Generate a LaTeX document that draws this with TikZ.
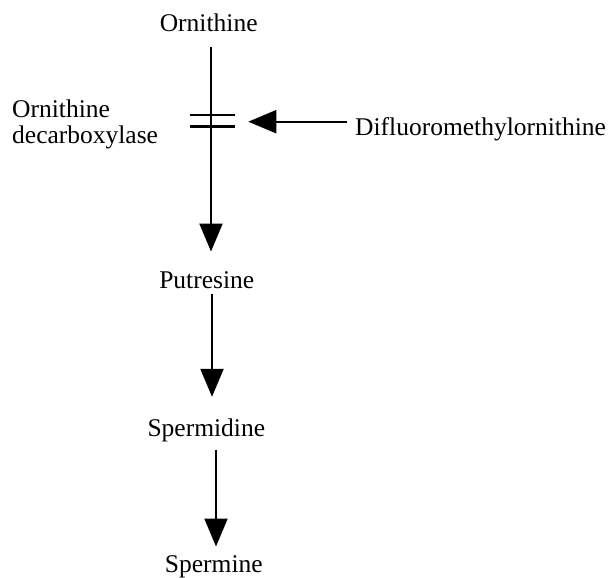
\documentclass[tikz,border=0pt]{standalone}
\usepackage{fontspec}
\setmainfont{Liberation Serif}
\usetikzlibrary{arrows.meta}
\begin{document}
\begin{tikzpicture}[x=1pt,y=-1pt,
  label/.style={inner sep=0pt, text height=17.5pt, text depth=5.5pt, anchor=base, font=\fontsize{25.5}{26.7}\selectfont},
  conn/.style={line width=2.2pt, -{Triangle[length=28pt,width=23pt]}},
  bar/.style={line width=2.5pt}]
\useasboundingbox (0,0) rectangle (613,578);
% nodes
\node[label] (orn) at (208.7,32) {Ornithine};
\node[label] (put) at (206.7,288.3) {Putresine};
\node[label] (spd) at (206.3,436.7) {Spermidine};
\node[label] (spm) at (213.8,572.7) {Spermine};
\node[label, anchor=base west] (dfmo) at (355,135) {Difluoromethylornithine};
\node[inner sep=0pt, align=left, anchor=north west, font=\fontsize{25.5}{26.6}\selectfont] (odc) at (12,99.3) {Ornithine\\decarboxylase};
% line x positions
\coordinate (l1) at (211,0);
\coordinate (l2) at (212,0);
\coordinate (l3) at (216,0);
\coordinate (blk) at (248.3,121.7);
% connectors
\draw[conn] ([yshift=-9.2pt]orn.south -| l1) -- ([yshift=19.1pt]put.north -| l1);
\draw[conn] ([yshift=0.5pt]put.south -| l2) -- ([yshift=22.2pt]spd.north -| l2);
\draw[conn] ([yshift=-7.1pt]spd.south -| l3) -- ([yshift=8.5pt]spm.north -| l3);
\draw[conn] ([xshift=-8.3pt]dfmo.west |- blk) -- (blk);
% block bars
\draw[bar] (190,115) -- (235,115);
\draw[bar] (190,126.7) -- (235,126.7);
\end{tikzpicture}
\end{document}
